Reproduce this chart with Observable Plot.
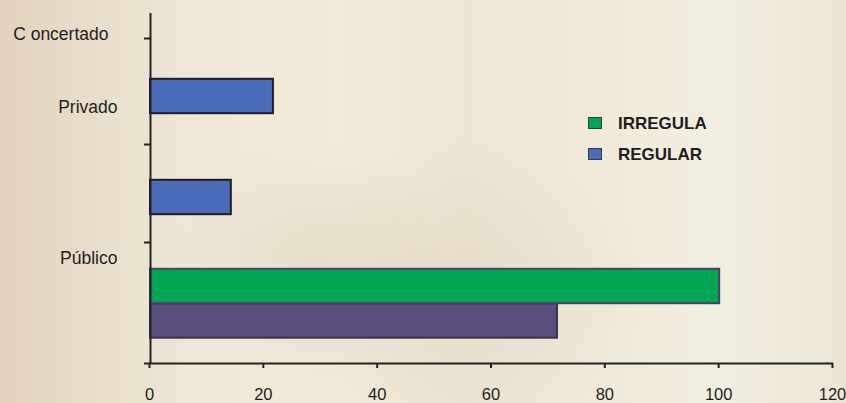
<!DOCTYPE html>
<html>
<head>
<meta charset="utf-8">
<script src="https://cdn.jsdelivr.net/npm/d3@7"></script>
<script src="https://cdn.jsdelivr.net/npm/@observablehq/plot@0.6"></script>
<style>
  html, body { margin: 0; padding: 0; }
  #wrap {
    position: relative; width: 846px; height: 403px; overflow: hidden;
    font-family: "Liberation Sans", Arial, sans-serif;
    background:
      radial-gradient(ellipse 200px 150px at 450px 290px, rgba(205,192,168,0.25), rgba(205,192,168,0) 100%),
      radial-gradient(ellipse 140px 120px at 310px 260px, rgba(205,190,165,0.22), rgba(205,190,165,0) 100%),
      linear-gradient(to right, #e2d3c0 0%, #e9dfcd 12%, #eee7d5 22%, #f1ebda 40%, #ede6d4 55%, #efe9d9 70%, #f3efe0 85%, #ebe5d5 100%);
  }
  #wrap svg { background: transparent !important; position: absolute; left: 0; top: 0; overflow: visible; }
  .legend { position: absolute; left: 588px; top: 117px; font-weight: bold; font-size: 17px; color: #1e1e1e; }
  .legend .row { position: relative; height: 31px; }
  .legend .sw { position: absolute; left: 0; width: 14px; height: 12px; border: 1px solid #3a3a3a; box-sizing: border-box; }
  .legend .lab { position: absolute; left: 30px; top: -2px; line-height: 17px; }
</style>
</head>
<body>
<div id="wrap"></div>
<script>
// ---- data ----
const categories = ["Público", "Privado", "C oncertado"];
const categoryRows = [10.5, 25.6, 32.9];          // row position of each category label
const categoryTicks = [0, 12.1, 21.9, 32.5];       // category-axis tick rows
const barSeries = ["", "IRREGULA", "REGULAR", "REGULAR"];
const barValues = [71.5, 100, 14.2, 21.6];
const barRows = [4.25, 7.7, 16.6, 26.7];
const legendSeries = ["IRREGULA", "REGULAR"];
const xTicks = [0, 20, 40, 60, 80, 100, 120];

const seriesColors = {"": "#5a4e7c", "IRREGULA": "#00a651", "REGULAR": "#4a6bb7"};
const seriesStroke = {"": "#3b3152", "IRREGULA": "#4b3f6b", "REGULAR": "#1f1f1f"};

const bars = barValues.map((v, i) => ({series: barSeries[i], value: v, row: barRows[i]}));
const labels = categories.map((c, i) => ({name: c, row: categoryRows[i]}));

const half = 1.72;
const chart = Plot.plot({
  width: 846,
  height: 403,
  marginLeft: 150,
  marginRight: 13,
  marginTop: 13,
  marginBottom: 40,
  style: {background: "transparent", fontFamily: "Liberation Sans, Arial, sans-serif", color: "#1e1e1e", overflow: "visible"},
  x: {domain: [0, 120], label: null},
  y: {domain: [0, 35], label: null},
  marks: [
    ...Object.keys(seriesColors).map(s => Plot.rectX(bars.filter(d => d.series === s), {
      x1: 0, x2: "value", y1: d => d.row - half, y2: d => d.row + half,
      fill: seriesColors[s], stroke: seriesStroke[s], strokeWidth: 2
    })),
    Plot.axisX({ticks: xTicks, label: null, tickSize: 5, tickPadding: 20, fontSize: 16.5, dx: -1, stroke: "#222", strokeWidth: 2, tickFormat: d => String(d)}),
    Plot.axisY({ticks: categoryTicks, label: null, tickSize: 6, tickFormat: () => "", stroke: "#222", strokeWidth: 2}),
    Plot.ruleY([0], {x1: 0, x2: 120, stroke: "#222", strokeWidth: 2}),
    Plot.ruleX([0], {y1: 0, y2: 35, stroke: "#222", strokeWidth: 2}),
    Plot.text(labels.filter(d => d.name !== "C oncertado"), {x: 0, y: "row", text: "name", textAnchor: "end", dx: -33, fontSize: 17.5, fill: "#1e1e1e"}),
    Plot.text(labels.filter(d => d.name === "C oncertado"), {x: 0, y: "row", text: "name", textAnchor: "end", dx: -42, fontSize: 17.5, fill: "#1e1e1e"})
  ]
});
const wrap = document.getElementById("wrap");
wrap.appendChild(chart);

const legend = document.createElement("div");
legend.className = "legend";
legendSeries.forEach(s => {
  const row = document.createElement("div");
  row.className = "row";
  const sw = document.createElement("div");
  sw.className = "sw";
  sw.style.background = seriesColors[s];
  const lab = document.createElement("div");
  lab.className = "lab";
  lab.textContent = s;
  row.appendChild(sw); row.appendChild(lab);
  legend.appendChild(row);
});
wrap.appendChild(legend);
</script>
</body>
</html>
